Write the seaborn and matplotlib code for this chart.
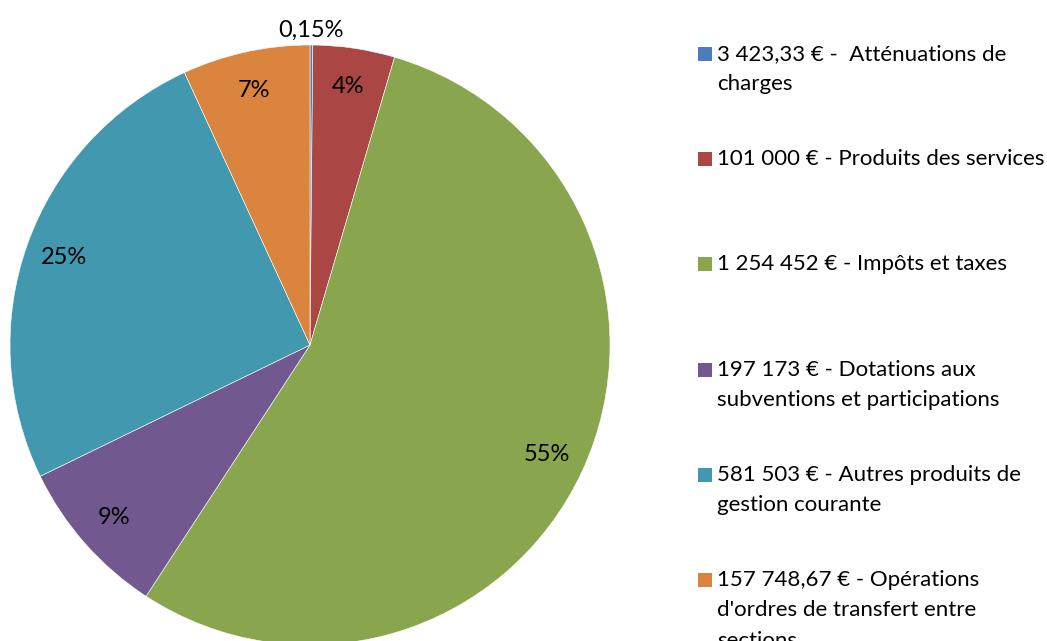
import matplotlib.pyplot as plt
import seaborn as sns
from matplotlib.patches import Rectangle
import numpy as np

sns.set_theme(style="white")
plt.rcParams['font.family'] = ['Lato', 'DejaVu Sans']

# Données
montants = [3423.33, 101000, 1254452, 197173, 581503, 157748.67]
libelles = [
    "3 423,33 € -  Atténuations de\ncharges",
    "101 000 € - Produits des services",
    "1 254 452 € - Impôts et taxes",
    "197 173 € - Dotations aux\nsubventions et participations",
    "581 503 € - Autres produits de\ngestion courante",
    "157 748,67 € - Opérations\nd'ordres de transfert entre\nsections",
]
couleurs = ["#4A7EBB", "#AA4643", "#89A54E", "#71588F", "#4198AF", "#DB843D"]


def format_pct(pct):
    if pct < 1:
        return f"{pct:.2f}".replace(".", ",") + "%"
    return f"{pct:.0f}%"


fig = plt.figure(figsize=(10.47, 6.41), dpi=100)
ax = fig.add_axes([10 / 1047, -4 / 641, 600 / 1047, 600 / 641])

wedges, textes, pcts = ax.pie(
    montants, colors=couleurs, startangle=90, counterclock=False,
    autopct=format_pct, pctdistance=0.87,
    wedgeprops=dict(edgecolor="white", linewidth=0.4),
    textprops=dict(fontsize=17, color="black"),
)
# petite part : étiquette à l'extérieur
w0 = wedges[0]
ang = np.deg2rad((w0.theta1 + w0.theta2) / 2)
pcts[0].set_position((1.05 * np.cos(ang), 1.05 * np.sin(ang)))

ax.set_xlim(-1, 1)
ax.set_ylim(-1, 1)
ax.set_aspect("equal")
ax.axis("off")

# Légende
for i, (lab, c) in enumerate(zip(libelles, couleurs)):
    y = 641 - (54 + i * 105.2)
    fig.patches.append(Rectangle((698 / 1047, (y - 7) / 641), 14 / 1047, 14 / 641,
                                 transform=fig.transFigure, facecolor=c, edgecolor="none"))
    fig.text(717 / 1047, (y + 10) / 641, lab, fontsize=16, va="top", ha="left",
             linespacing=1.65, color="black")

fig.savefig("out.png", dpi=100)
